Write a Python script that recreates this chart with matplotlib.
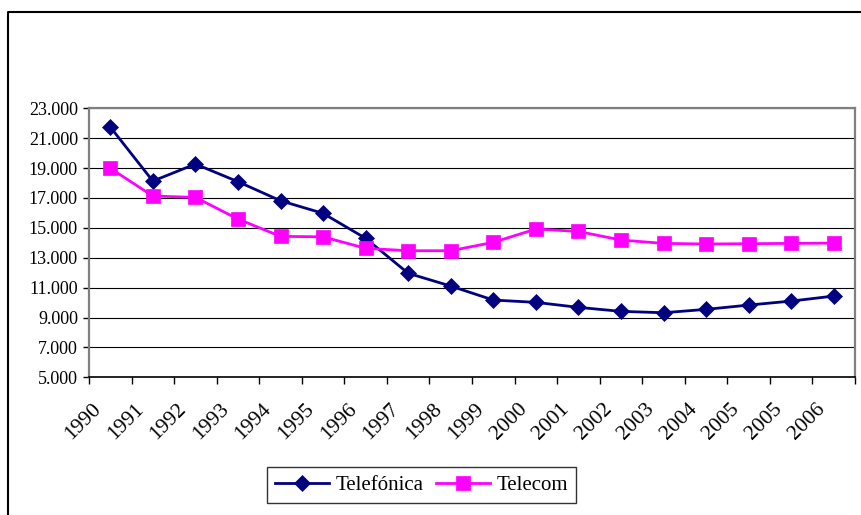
import matplotlib
matplotlib.use("Agg")
import matplotlib.pyplot as plt
from matplotlib.lines import Line2D
from matplotlib.ticker import FixedLocator, FuncFormatter
import matplotlib.transforms as mtransforms
import numpy as np

years = ["1990", "1991", "1992", "1993", "1994", "1995", "1996", "1997", "1998",
         "1999", "2000", "2001", "2002", "2003", "2004", "2005", "2005", "2006"]
telefonica = [21750, 18130, 19270, 18090, 16815, 15970, 14300, 11960, 11106,
              10170, 10015, 9680, 9413, 9320, 9546, 9833, 10100, 10435]
telecom = [18984, 17130, 17040, 15590, 14430, 14400, 13630, 13470, 13470,
           14030, 14920, 14760, 14185, 13960, 13920, 13940, 13960, 13980]
series_names = ["Telefónica", "Telecom"]
yticks = list(range(5000, 23001, 2000))

W, H = 861, 515
fig = plt.figure(figsize=(W / 100, H / 100), dpi=100)
plt.rcParams['font.family'] = ['Liberation Serif', 'DejaVu Serif']

left, right, top, bottom = 89, 855, 108.3, 377.3
ax = fig.add_axes([left / W, 1 - bottom / H, (right - left) / W, (bottom - top) / H])

x = np.arange(len(years))
ax.plot(x, telefonica, color='#000080', lw=2.0, marker='D', ms=8,
        mec='#000080', mfc='#000080', mew=0.5, label=series_names[0], zorder=3)
ax.plot(x, telecom, color='#FF00FF', lw=2.0, marker='s', ms=10.5,
        mec='#FF00FF', mfc='#FF00FF', mew=0.5, label=series_names[1], zorder=3)

ax.set_xlim(-0.5, len(years) - 0.5)
ax.set_ylim(5000, 23000)
ax.set_yticks(yticks)
ax.yaxis.set_major_formatter(FuncFormatter(lambda v, p: f"{int(v):,}".replace(",", ".")))
ax.grid(axis='y', color='black', lw=0.8)
ax.set_axisbelow(True)

ax.set_xticks(x)
ax.set_xticklabels(years, rotation=45, ha='right', va='top', fontsize=15.5)
ax.xaxis.set_minor_locator(FixedLocator(np.arange(-0.5, len(years), 1.0)))
ax.tick_params(axis='x', which='major', length=0, pad=16)
ax.tick_params(axis='x', which='minor', length=5, width=1, color='black', direction='out')
ax.tick_params(axis='y', which='major', length=4, width=1, color='black', labelsize=13, pad=4)

offset = mtransforms.ScaledTranslation(-5 / 100, 0, fig.dpi_scale_trans)
for lbl in ax.get_xticklabels():
    lbl.set_transform(lbl.get_transform() + offset)

for s in ['left', 'right', 'top']:
    ax.spines[s].set_color('#808080')
    ax.spines[s].set_linewidth(1.6)
ax.spines['bottom'].set_color('black')
ax.spines['bottom'].set_linewidth(1.2)

leg = ax.legend(loc='center', bbox_to_anchor=(421.5 / W, 1 - 485 / H),
                bbox_transform=fig.transFigure, ncol=2, fontsize=15,
                frameon=True, fancybox=False, shadow=False, edgecolor='black',
                handlelength=2.6, handletextpad=0.3, columnspacing=0.6,
                borderpad=0.4, borderaxespad=0)
leg.get_frame().set_linewidth(1.0)

# outer chart-area frame (left and top edges visible)
fig.add_artist(Line2D([8 / W, 8 / W, 1.0], [0.0, 1 - 12 / H, 1 - 12 / H],
                      transform=fig.transFigure, color='black', lw=1.5))

fig.savefig("out.png", dpi=100)
